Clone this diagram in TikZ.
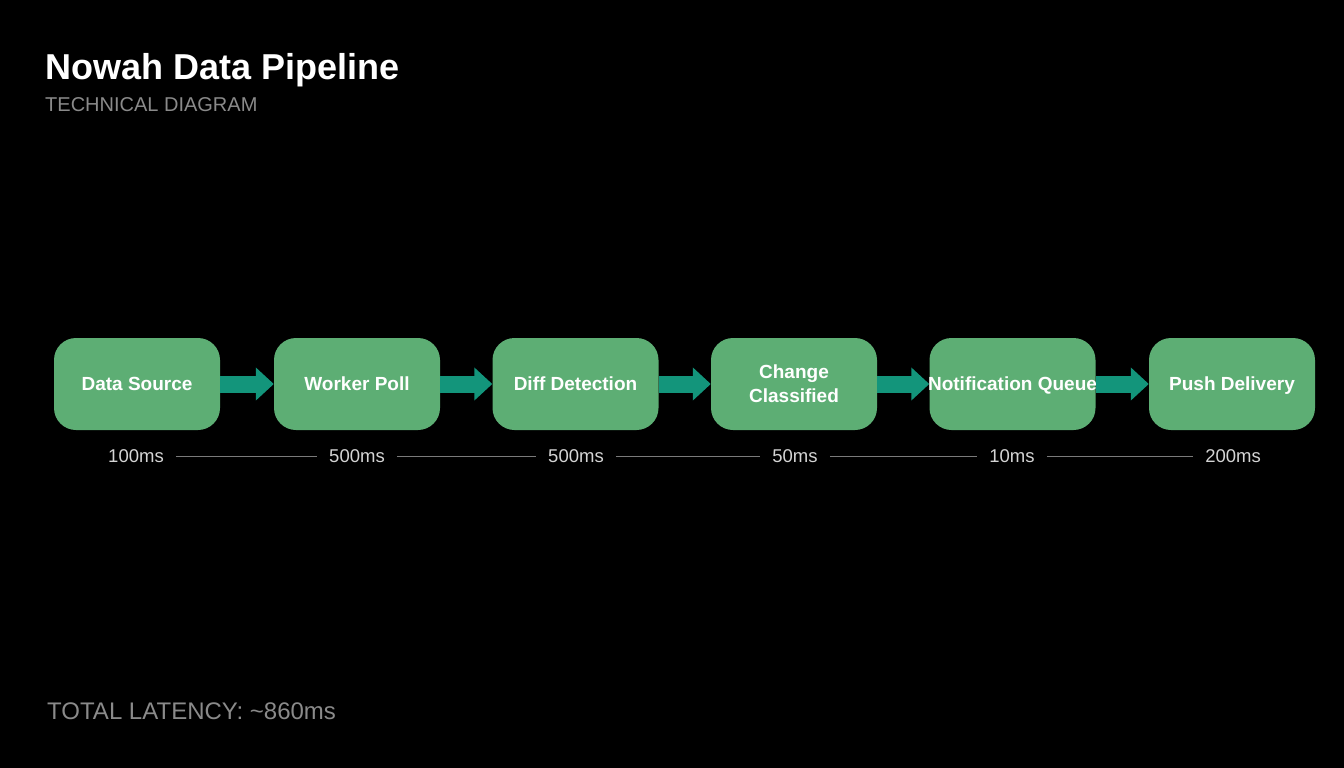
\documentclass[tikz,border=0pt]{standalone}
\usepackage{fontspec}
\setmainfont{Liberation Sans}
\usetikzlibrary{arrows.meta,calc}
\definecolor{boxgreen}{HTML}{5DAE74}
\definecolor{arrowteal}{HTML}{13957B}
\definecolor{subgray}{HTML}{8A8A8A}
\definecolor{linegray}{HTML}{7A7A7A}
\definecolor{labelgray}{HTML}{D4D4D4}
\begin{document}
\begin{tikzpicture}[x=1pt,y=-1pt,
  stage/.style={fill=boxgreen,rounded corners=22pt,minimum width=166pt,minimum height=92pt,
    inner sep=0pt,align=center,text=white,font=\fontsize{19}{24}\selectfont\bfseries},
  oneline/.style={text height=13.6pt,text depth=0pt},
  flow/.style={arrowteal,line width=17pt,-{Triangle[length=18pt,width=32pt]}},
  lat/.style={text=labelgray,font=\fontsize{18.5}{22}\selectfont,inner sep=0pt},
  tick/.style={linegray,line width=1pt}]
\fill[black] (0,0) rectangle (1344,768);
\useasboundingbox (0,0) rectangle (1344,768);
\node[anchor=base west,text=white,font=\fontsize{36}{43}\selectfont\bfseries,inner sep=0pt] (title) at (45,79) {Nowah Data Pipeline};
\node[anchor=base west,text=subgray,font=\fontsize{20}{24}\selectfont,inner sep=0pt] (sub) at (45,111) {TECHNICAL DIAGRAM};
\node[stage,oneline] (s1) at (137,384) {Data Source};
\node[stage,oneline] (s2) at (357,384) {Worker Poll};
\node[stage,oneline] (s3) at (575.5,384) {Diff Detection};
\node[stage] (s4) at (794,384) {Change\\Classified};
\node[stage,oneline] (s5) at (1012.5,384) {\makebox[0pt]{Notification Queue}};
\node[stage,oneline] (s6) at (1232,384) {Push Delivery};
\foreach \a/\b in {s1/s2,s2/s3,s3/s4,s4/s5,s5/s6}
  \draw[flow] (\a.east) -- (\b.west);
\node[lat] (l1) at (136,456) {100ms};
\node[lat] (l2) at (357,456) {500ms};
\node[lat] (l3) at (576,456) {500ms};
\node[lat] (l4) at (795,456) {50ms};
\node[lat] (l5) at (1012,456) {10ms};
\node[lat] (l6) at (1233,456) {200ms};
\foreach \a/\b in {l1/l2,l2/l3,l3/l4,l4/l5,l5/l6}
  \draw[tick] ($(\a.east)+(12,0)$) -- ($(\b.west)+(-12,0)$);
\node[anchor=base west,text=subgray,font=\fontsize{24}{28}\selectfont,inner sep=0pt] (total) at (47,719) {TOTAL LATENCY: \textasciitilde860ms};
\end{tikzpicture}
\end{document}
